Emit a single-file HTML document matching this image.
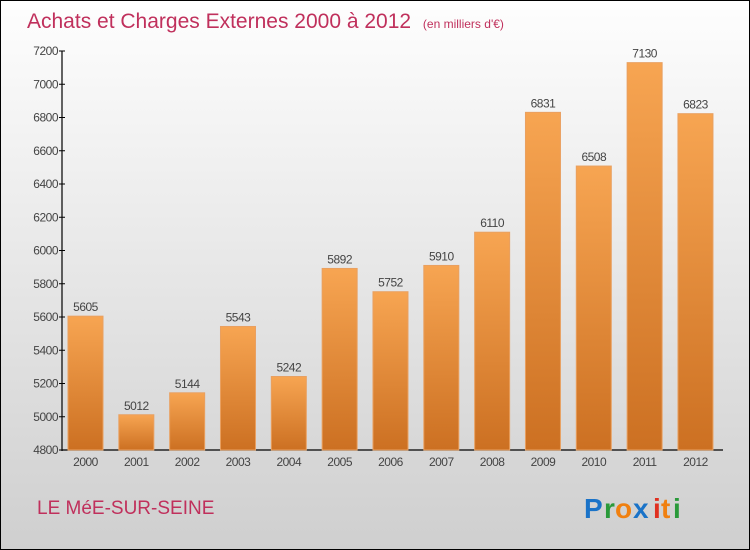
<!DOCTYPE html>
<html><head><meta charset="utf-8"><style>
body{margin:0}
#c{position:relative;width:748px;height:548px;border:1px solid #000;background:linear-gradient(#fefefe,#cfcfcf);font-family:"Liberation Sans",sans-serif;overflow:hidden}
</style></head><body>
<div id="c">
<svg id="s" width="748" height="548" style="position:absolute;left:0;top:0">
<defs><linearGradient id="g" x1="0" y1="0" x2="0" y2="1"><stop offset="0" stop-color="#f7a552"/><stop offset="1" stop-color="#cc7022"/></linearGradient></defs>
<text x="26" y="27" font-size="21" fill="#c0305c">Achats et Charges Externes 2000 à 2012 <tspan font-size="12" dx="6">(en milliers d'€)</tspan></text>
<text x="36" y="513" font-size="19" fill="#c0305c">LE MéE-SUR-SEINE</text>
<g font-size="28" font-weight="bold" font-family="'Liberation Sans',sans-serif">
<text x="583" y="517" fill="#1a73c8">P</text><text x="603" y="517" fill="#2a9a3a">r</text><text x="614" y="517" fill="#f08010">o</text><text x="632" y="517" fill="#1a73c8">x</text><text x="652" y="517" fill="#e03020">i</text><text x="660" y="517" fill="#f08010">t</text><text x="672" y="517" fill="#2a9a3a">i</text>
</g>
<g id="plot"></g>
</svg>
</div>
<script>
const years=["2000","2001","2002","2003","2004","2005","2006","2007","2008","2009","2010","2011","2012"];
const values=[5605,5012,5144,5543,5242,5892,5752,5910,6110,6831,6508,7130,6823];
const ticks=[4800,5000,5200,5400,5600,5800,6000,6200,6400,6600,6800,7000,7200];
const NS="http://www.w3.org/2000/svg";
const p=document.getElementById('plot');
const x0=61,yMin=4800,yMax=7200,yTop=50,yBot=449,pitch=50.83,bw=35;
const y=v=>yBot-(v-yMin)/(yMax-yMin)*(yBot-yTop);
const xb=i=>67+i*pitch;
function mk(t,a){const e=document.createElementNS(NS,t);for(const k in a)e.setAttribute(k,a[k]);p.appendChild(e);return e;}
let ax=mk('line',{x1:x0,y1:yTop,x2:x0,y2:yBot+1,stroke:'#000','stroke-width':1.2});


let bx=mk('line',{x1:x0,y1:yBot,x2:722,y2:yBot,stroke:'#000','stroke-width':1.2});


ticks.forEach(t=>{
 const tk=mk('line',{x1:x0-3,x2:x0+3,y1:y(t),y2:y(t),stroke:'#000'});
 
 
 const tl=mk('text',{x:x0-4,y:y(t)+4,'font-size':12,'text-anchor':'end',fill:'#444','letter-spacing':'-0.5'});
 tl.textContent=t;
 
 
});
values.forEach((v,i)=>{
 const b=mk('rect',{x:xb(i),y:y(v),width:bw,height:yBot-y(v),fill:'url(#g)',stroke:'#e9a060','stroke-width':1});
 
 
 const vl=mk('text',{x:xb(i)+bw/2,y:y(v)-5,'font-size':12,'text-anchor':'middle',fill:'#444','letter-spacing':'-0.5'});
 vl.textContent=v;
 
 
 const xl=mk('text',{x:xb(i)+bw/2,y:yBot+16,'font-size':12,'text-anchor':'middle',fill:'#444','letter-spacing':'-0.5'});
 xl.textContent=years[i];
 
 
});
</script>
</body></html>
